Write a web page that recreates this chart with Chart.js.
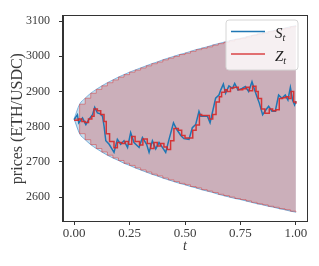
<!DOCTYPE html>
<html>
<head>
<meta charset="utf-8">
<script src="https://cdn.jsdelivr.net/npm/chart.js@4.4.1/dist/chart.umd.min.js"></script>
<style>
html,body{margin:0;padding:0;background:#fff;}
canvas{display:block;}
</style>
</head>
<body>
<canvas id="c" width="319" height="266"></canvas>
<script>
// ---- data ----
const tS = [0.000,0.015,0.021,0.038,0.053,0.066,0.083,0.093,0.105,0.117,0.128,0.135,0.143,0.158,0.180,0.195,0.210,0.225,0.241,0.255,0.270,0.293,0.308,0.327,0.338,0.353,0.368,0.383,0.398,0.413,0.428,0.448,0.463,0.481,0.495,0.518,0.533,0.548,0.563,0.571,0.586,0.601,0.613,0.623,0.638,0.653,0.661,0.673,0.683,0.698,0.714,0.724,0.739,0.757,0.772,0.787,0.802,0.814,0.824,0.835,0.850,0.865,0.877,0.892,0.907,0.922,0.937,0.952,0.964,0.975,0.985,0.994,1.000];
const sVals = [2820,2834,2811,2825,2806,2820,2834,2855,2839,2837,2830,2802,2760,2750,2727,2764,2750,2760,2741,2783,2755,2741,2769,2750,2727,2760,2737,2755,2741,2727,2764,2811,2792,2775,2766,2764,2797,2806,2844,2830,2830,2830,2811,2839,2881,2890,2904,2921,2895,2916,2909,2923,2904,2909,2914,2900,2928,2904,2886,2867,2834,2848,2858,2844,2844,2890,2881,2890,2876,2912,2876,2862,2872];
const tZ = [0.000,0.020,0.035,0.050,0.065,0.080,0.090,0.105,0.120,0.135,0.145,0.160,0.180,0.195,0.215,0.230,0.245,0.260,0.275,0.295,0.310,0.330,0.345,0.360,0.375,0.390,0.405,0.420,0.435,0.450,0.470,0.485,0.500,0.520,0.535,0.550,0.565,0.575,0.610,0.625,0.640,0.655,0.665,0.680,0.690,0.705,0.720,0.740,0.760,0.775,0.790,0.805,0.820,0.830,0.845,0.860,0.880,0.895,0.910,0.925,0.940,0.955,0.968,0.978,0.990,1.000];
const zVals = [2818,2822,2815,2812,2822,2830,2850,2845,2835,2815,2780,2758,2740,2755,2752,2758,2750,2772,2758,2748,2765,2752,2738,2755,2745,2752,2742,2735,2760,2795,2790,2775,2768,2768,2790,2805,2835,2832,2822,2835,2870,2885,2898,2905,2900,2910,2912,2905,2908,2912,2902,2915,2900,2880,2850,2838,2850,2845,2848,2880,2882,2885,2880,2900,2870,2865];
const tBand = [0,0.025,0.05,0.075,0.1,0.125,0.15,0.175,0.2,0.225,0.25,0.275,0.3,0.325,0.35,0.375,0.4,0.425,0.45,0.475,0.5,0.525,0.55,0.575,0.6,0.625,0.65,0.675,0.7,0.725,0.75,0.775,0.8,0.825,0.85,0.875,0.9,0.925,0.95,0.975,1.0];
const bandUpper = [2822,2864,2881,2895,2906,2916,2925,2933,2941,2948,2955,2961,2967,2973,2979,2984,2990,2995,3000,3005,3009,3014,3019,3023,3027,3032,3036,3040,3044,3048,3051,3055,3059,3063,3066,3070,3073,3077,3080,3084,3087];
const bandLower = [2822,2780,2763,2749,2738,2728,2719,2711,2704,2696,2690,2683,2677,2671,2665,2660,2654,2649,2644,2639,2635,2630,2626,2621,2617,2613,2608,2604,2600,2596,2593,2589,2585,2581,2578,2574,2571,2567,2564,2560,2557];
const xTicks = [0, 0.25, 0.5, 0.75, 1.0];
const yTicks = [2600, 2700, 2800, 2900, 3000, 3100];
const seriesNames = ['S', 'Z'];

const SERIF = "'Liberation Serif','DejaVu Serif',serif";
const TXT = '#3a3a3a';
const pts = (xs, ys) => xs.map((x, i) => ({x: x, y: ys[i]}));

const framePlugin = {
  id: 'frame',
  afterDraw(chart) {
    const {ctx, chartArea: a} = chart;
    ctx.save();
    ctx.strokeStyle = '#333';
    ctx.lineWidth = 1;
    ctx.strokeRect(Math.round(a.left) - 0.5, Math.round(a.top) - 0.5, Math.round(a.right - a.left) + 1, Math.round(a.bottom - a.top) + 1);
    // legend
    const bx = 226, by = 20, bw = 72, bh = 50, r = 3;
    ctx.beginPath();
    ctx.moveTo(bx + r, by);
    ctx.arcTo(bx + bw, by, bx + bw, by + bh, r);
    ctx.arcTo(bx + bw, by + bh, bx, by + bh, r);
    ctx.arcTo(bx, by + bh, bx, by, r);
    ctx.arcTo(bx, by, bx + bw, by, r);
    ctx.closePath();
    ctx.fillStyle = 'rgba(255,255,255,0.82)';
    ctx.fill();
    ctx.strokeStyle = '#d6d6d6';
    ctx.stroke();
    const rows = [{c: '#1f77b4', y: 31.5, name: seriesNames[0], base: 37.5},
                  {c: 'rgba(214,39,40,0.85)', y: 54, name: seriesNames[1], base: 60.5}];
    rows.forEach(row => {
      ctx.beginPath();
      ctx.strokeStyle = row.c;
      ctx.lineWidth = 1.5;
      ctx.moveTo(231, row.y);
      ctx.lineTo(265, row.y);
      ctx.stroke();
      ctx.fillStyle = '#222';
      ctx.textBaseline = 'alphabetic';
      ctx.textAlign = 'left';
      ctx.font = 'italic 15px ' + SERIF;
      ctx.fillText(row.name, 275, row.base);
      const w = ctx.measureText(row.name).width;
      ctx.font = 'italic 10px ' + SERIF;
      ctx.fillText('t', 275 + w, row.base + 3);
    });
    ctx.restore();
  }
};

new Chart(document.getElementById('c').getContext('2d'), {
  type: 'line',
  data: {
    datasets: [
      {data: pts(tBand, bandUpper), borderColor: 'rgba(120,175,220,0.9)', borderWidth: 1, backgroundColor: 'rgba(31,119,180,0.25)', fill: '+1', pointRadius: 0, cubicInterpolationMode: 'monotone', order: 5},
      {data: pts(tBand, bandLower), borderColor: 'rgba(120,175,220,0.9)', borderWidth: 1, fill: false, pointRadius: 0, cubicInterpolationMode: 'monotone', order: 5},
      {data: pts(tBand, bandUpper), borderColor: 'rgba(214,39,40,0.45)', borderWidth: 1, backgroundColor: 'rgba(214,39,40,0.25)', fill: '+1', pointRadius: 0, stepped: true, order: 4},
      {data: pts(tBand, bandLower), borderColor: 'rgba(214,39,40,0.45)', borderWidth: 1, fill: false, pointRadius: 0, stepped: true, order: 4},
      {label: 'S', data: pts(tS, sVals), borderColor: '#1f77b4', borderWidth: 1.5, fill: false, pointRadius: 0, order: 2},
      {label: 'Z', data: pts(tZ, zVals), borderColor: 'rgba(214,39,40,0.9)', borderWidth: 1.5, fill: false, pointRadius: 0, stepped: true, order: 1}
    ]
  },
  options: {
    responsive: false,
    animation: false,
    devicePixelRatio: 1,
    layout: {padding: {left: 0, right: 12, top: 12, bottom: 0}},
    plugins: {legend: {display: false}, tooltip: {enabled: false}},
    scales: {
      x: {
        type: 'linear', min: -0.05, max: 1.05,
        afterBuildTicks: s => { s.ticks = xTicks.map(v => ({value: v})); },
        afterFit: s => { s.height = 45; },
        ticks: {callback: v => Number(v).toFixed(2), color: TXT, font: {family: SERIF, size: 13}, padding: 1, maxRotation: 0, autoSkip: false},
        grid: {drawOnChartArea: false, drawTicks: true, tickLength: 4, color: '#333'},
        border: {display: true, color: '#333', width: 1},
        title: {display: true, text: 't', color: TXT, font: {family: SERIF, size: 14, style: 'italic'}, padding: {top: 0, bottom: 11}}
      },
      y: {
        type: 'linear', min: 2532, max: 3114,
        afterBuildTicks: s => { s.ticks = yTicks.map(v => ({value: v})); },
        afterFit: s => { s.width = 63; },
        ticks: {callback: v => String(v), color: TXT, font: {family: SERIF, size: 12}, padding: 9, autoSkip: false},
        grid: {drawOnChartArea: false, drawTicks: true, tickLength: 4, color: '#333'},
        border: {display: true, color: '#333', width: 1},
        title: {display: true, text: 'prices (ETH/USDC)', color: TXT, font: {family: SERIF, size: 16}, padding: {top: 8, bottom: 0}}
      }
    }
  },
  plugins: [framePlugin]
});
</script>
</body>
</html>
